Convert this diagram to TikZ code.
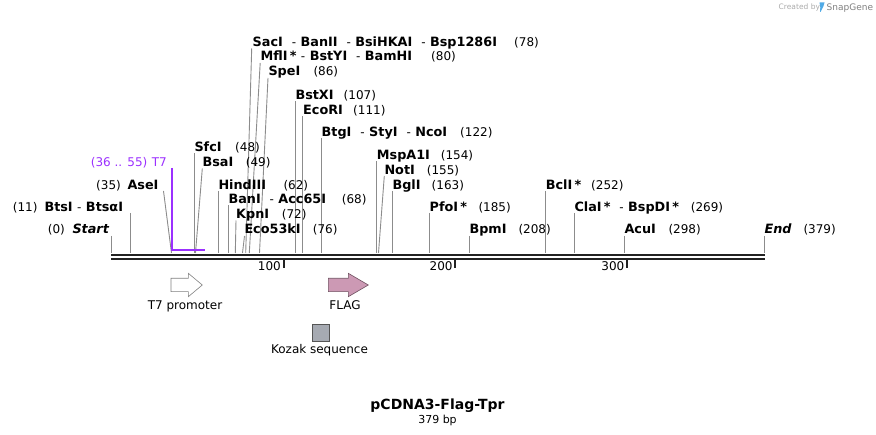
\documentclass[tikz,border=0pt]{standalone}
\usepackage{fontspec}
\setmainfont{DejaVu Sans}
\definecolor{linegray}{RGB}{140,140,140}
\definecolor{backbone}{RGB}{34,34,34}
\definecolor{t7purple}{RGB}{155,48,255}
\definecolor{flagfill}{RGB}{204,153,180}
\definecolor{flagline}{RGB}{110,80,95}
\definecolor{kozfill}{RGB}{166,170,178}
\definecolor{kozline}{RGB}{85,85,85}
\definecolor{logogray}{RGB}{170,170,170}
\definecolor{logoblue}{RGB}{80,170,230}
\tikzset{
  siteline/.style={draw=linegray,line width=0.9pt},
  lbl/.style={inner sep=0pt,anchor=base west,font=\fontsize{12.8}{14}\selectfont\bfseries},
  numlbl/.style={inner sep=0pt,anchor=base west,font=\fontsize{12}{14}\selectfont},
  featlbl/.style={inner sep=0pt,anchor=base,font=\fontsize{12}{14}\selectfont},
  bbline/.style={draw=backbone,line width=2.4pt},
}
\newcommand\cutsite[4]{%
  \coordinate (t#1) at (#2,#3);
  \coordinate (b#1) at (#4,253);
  \draw[siteline] (t#1) -- (b#1);}
\newcommand\hy{\ \mdseries\fontsize{12}{14}\selectfont-\fontsize{12.8}{14}\selectfont\bfseries\ }
\begin{document}
\begin{tikzpicture}[x=1pt,y=-1pt]
\useasboundingbox (0,0) rectangle (876,435);
% backbone
\coordinate (bbL1) at (111,255);
\coordinate (bbR1) at (764.8,255);
\coordinate (bbL2) at (111,258.8);
\coordinate (bbR2) at (764.8,258.8);
\draw[bbline,line width=2.2pt] (bbL1) -- (bbR1);
\draw[bbline] (bbL2) -- (bbR2);
% ticks
\foreach \tx/\tl in {283.5/100,455.3/200,627/300}{
  \coordinate (tk\tl a) at (\tx,259);
  \coordinate (tk\tl b) at (\tx,268);
  \draw[backbone,line width=2pt] (tk\tl a) -- (tk\tl b);
  \node[inner sep=0pt,anchor=base east,font=\fontsize{12}{14}\selectfont] (tkl\tl) at (\tx-2.5,271) {\tl};
}
% cut site lines
\cutsite{Start}{111}{236}{111}
\cutsite{Bts}{130.5}{213}{130.5}
\cutsite{Ase}{163.5}{191}{171.5}
\cutsite{Sfc}{194.3}{153.5}{194.3}
\cutsite{Bsa}{202.3}{168.5}{195.5}
\cutsite{Hind}{218.5}{191}{218.5}
\cutsite{Ban}{228.5}{205.5}{228.5}
\cutsite{Kpn}{236}{220.5}{235.3}
\cutsite{Eco53}{244.5}{236}{242.5}
\cutsite{Sac}{251.7}{48.5}{245.7}
\cutsite{Mfl}{260.2}{63}{249.3}
\cutsite{Spe}{268}{78}{259.5}
\cutsite{BstX}{295.5}{101.5}{295.5}
\cutsite{EcoR}{302.5}{116.5}{302.5}
\cutsite{Btg}{321.5}{138}{321.5}
\cutsite{Msp}{376.7}{161.5}{376.7}
\cutsite{Not}{384.3}{176}{378.5}
\cutsite{Bgl}{392.3}{191}{392.3}
\cutsite{Pfo}{429.5}{213}{429.5}
\cutsite{Bpm}{469.3}{236}{469.3}
\cutsite{Bcl}{545.5}{191}{545.5}
\cutsite{Cla}{574.3}{213}{574.3}
\cutsite{Acu}{624.3}{236}{624.3}
\cutsite{End}{764.3}{236}{764.3}
% T7 feature bracket
\coordinate (t7a) at (171.7,168);
\coordinate (t7b) at (171.7,250);
\coordinate (t7c) at (204.5,250);
\draw[t7purple,line width=1.6pt] (t7a) -- (t7b) -- (t7c);
\node[numlbl,text=t7purple] (t7num) at (90.7,166.7) {(36 .. 55)};
\node[numlbl,text=t7purple] (t7name) at (151.7,166.7) {T7};
% left-side labels
\node[numlbl] (mStart) at (47.7,234) {(0)};
\node[lbl] (nStart) at (72.3,234) {\bfseries\itshape Start};
\node[numlbl] (mBts) at (12.7,211.5) {(11)};
\node[lbl] (nBts) at (44.3,211.5) {BtsI\hy BtsαI};
\node[numlbl] (mAse) at (96,189.5) {(35)};
\node[lbl] (nAse) at (127.3,189.5) {AseI};
% right-side labels
\node[lbl] (nSac) at (252.5,46.5) {SacI \hy BanII \hy BsiHKAI \hy Bsp1286I};
\node[numlbl] (mSac) at (514,46.5) {(78)};
\node[lbl] (nMfl) at (260.5,61) {MflI\,*\hy BstYI \hy BamHI};
\node[numlbl] (mMfl) at (431,61) {(80)};
\node[lbl] (nSpe) at (268.3,75.7) {SpeI};
\node[numlbl] (mSpe) at (313.3,75.7) {(86)};
\node[lbl] (nBstX) at (295.3,100) {BstXI};
\node[numlbl] (mBstX) at (343.5,100) {(107)};
\node[lbl] (nEcoR) at (303,115) {EcoRI};
\node[numlbl] (mEcoR) at (353,115) {(111)};
\node[lbl] (nBtg) at (321.5,136.5) {BtgI \hy StyI \hy NcoI};
\node[numlbl] (mBtg) at (460,136.5) {(122)};
\node[lbl] (nMsp) at (376.7,160) {MspA1I};
\node[numlbl] (mMsp) at (440.7,160) {(154)};
\node[lbl] (nNot) at (384.3,174.5) {NotI};
\node[numlbl] (mNot) at (426.7,174.5) {(155)};
\node[lbl] (nBgl) at (392.3,189.5) {BglI};
\node[numlbl] (mBgl) at (431.5,189.5) {(163)};
\node[lbl] (nSfc) at (194.3,151.7) {SfcI};
\node[numlbl] (mSfc) at (235,151.7) {(48)};
\node[lbl] (nBsa) at (202.3,166.7) {BsaI};
\node[numlbl] (mBsa) at (245.7,166.7) {(49)};
\node[lbl] (nHind) at (218.3,189.5) {HindIII};
\node[numlbl] (mHind) at (283.3,189.5) {(62)};
\node[lbl] (nBan) at (228.3,204) {BanI \hy Acc65I};
\node[numlbl] (mBan) at (341.7,204) {(68)};
\node[lbl] (nKpn) at (236,219) {KpnI};
\node[numlbl] (mKpn) at (281.7,219) {(72)};
\node[lbl] (nEco53) at (244.3,234) {Eco53kI};
\node[numlbl] (mEco53) at (312.7,234) {(76)};
\node[lbl] (nPfo) at (429.5,211.5) {PfoI\,*};
\node[numlbl] (mPfo) at (478.3,211.5) {(185)};
\node[lbl] (nBpm) at (469.3,234) {BpmI};
\node[numlbl] (mBpm) at (518.3,234) {(208)};
\node[lbl] (nBcl) at (545.7,189.5) {BclI\,*};
\node[numlbl] (mBcl) at (591,189.5) {(252)};
\node[lbl] (nCla) at (574.3,211.5) {ClaI\,* \hy BspDI\,*};
\node[numlbl] (mCla) at (690.7,211.5) {(269)};
\node[lbl] (nAcu) at (624.3,234) {AcuI};
\node[numlbl] (mAcu) at (668.3,234) {(298)};
\node[lbl] (nEnd) at (764.3,234) {\bfseries\itshape End};
\node[numlbl] (mEnd) at (803.3,234) {(379)};
% features
\draw[draw=gray,fill=white,line width=0.6pt]
  (171,278.3) -- (188.3,278.3) -- (188.3,273.3) -- (202.3,285) -- (188.3,296.7) -- (188.3,291.7) -- (171,291.7) -- cycle;
\node[featlbl] (ft7) at (185,310) {T7 promoter};
\draw[draw=flagline,fill=flagfill,line width=0.6pt]
  (328.3,278.3) -- (348.3,278.3) -- (348.3,273.3) -- (368.3,285) -- (348.3,296.7) -- (348.3,291.7) -- (328.3,291.7) -- cycle;
\node[featlbl] (fflag) at (345,310) {FLAG};
\draw[draw=kozline,fill=kozfill,line width=0.6pt] (312.3,324.3) rectangle (329,341);
\node[featlbl] (fkoz) at (319.5,354) {Kozak sequence};
% title
\node[inner sep=0pt,anchor=base,font=\fontsize{14}{16}\selectfont\bfseries] (title) at (437.5,409.5) {pCDNA3-Flag-Tpr};
\node[inner sep=0pt,anchor=base,font=\fontsize{11}{13}\selectfont] (subtitle) at (437.5,423.3) {379 bp};
% logo
\node[inner sep=0pt,anchor=base west,font=\fontsize{7.5}{9}\selectfont,text=logogray] (logo1) at (778.5,10) {Created by};
\fill[logoblue] (819.5,2.5) -- (824.5,2.5) -- (823.5,6) .. controls (822.5,8) and (821.5,10) .. (820.5,12) -- (820,12) .. controls (820.5,9) and (820.5,6) .. (819.5,2.5) -- cycle;
\node[inner sep=0pt,anchor=base west,font=\fontsize{9}{11}\selectfont,text=gray] (logo2) at (826.5,10.5) {SnapGene};
\end{tikzpicture}
\end{document}
